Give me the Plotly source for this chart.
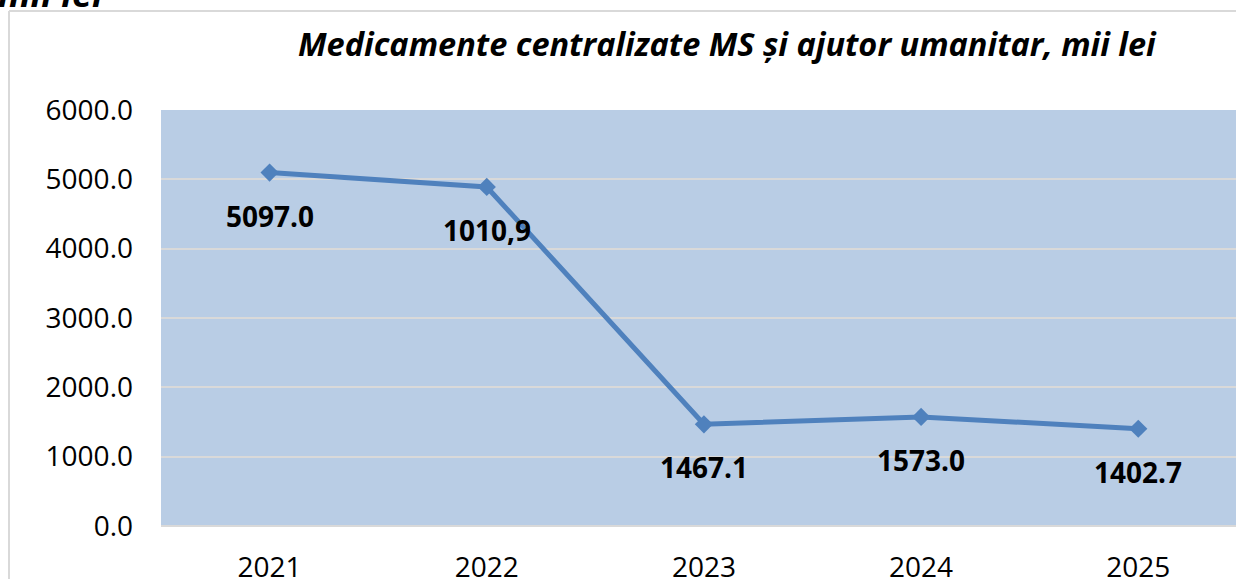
import plotly.graph_objects as go

years = ["2021", "2022", "2023", "2024", "2025"]
values = [5097.0, 4890.0, 1467.1, 1573.0, 1402.7]
labels = ["5097.0", "1010,9", "1467.1", "1573.0", "1402.7"]
y_ticks = [0, 1000, 2000, 3000, 4000, 5000, 6000]

W, H = 1236, 579
L, R, T, B = 161, 0, 110, 53
pw = W - L - R
ph = H - T - B

def px_x(p):
    return (p - L) / pw

def px_y(p):
    return (H - B - p) / ph

idx = list(range(len(years)))

fig = go.Figure()
fig.add_trace(go.Scatter(
    x=idx, y=values, mode="lines+markers",
    line=dict(color="#4F81BD", width=5),
    marker=dict(symbol="diamond", size=14, color="#4F81BD"),
    showlegend=False, hoverinfo="skip",
))

for i, v, lab in zip(idx, values, labels):
    fig.add_annotation(x=i, y=v, xref="x", yref="y", text="<b>" + lab + "</b>",
                       showarrow=False, yshift=-43,
                       font=dict(family="Open Sans", size=28, color="#000000"))

fig.add_annotation(xref="paper", yref="paper", x=px_x(727), y=px_y(44),
                   text="<b><i>Medicamente centralizate MS și ajutor umanitar, mii lei</i></b>",
                   showarrow=False, xanchor="center", yanchor="middle",
                   font=dict(family="Open Sans", size=32.5, color="#000000"))

fig.add_annotation(xref="paper", yref="paper", x=px_x(-4), y=px_y(20),
                   text="<b><i>mii lei</i></b>", showarrow=False,
                   xanchor="left", yanchor="bottom",
                   font=dict(family="Open Sans", size=36, color="#000000"))

# chart border (left and top edges; the rest lies outside the picture)
fig.add_shape(type="line", xref="paper", yref="paper",
              x0=px_x(9), x1=px_x(9), y0=px_y(640), y1=px_y(11),
              line=dict(color="#D9D9D9", width=2), layer="below")
fig.add_shape(type="line", xref="paper", yref="paper",
              x0=px_x(9), x1=px_x(1300), y0=px_y(11), y1=px_y(11),
              line=dict(color="#D9D9D9", width=2), layer="below")

fig.update_layout(
    width=W, height=H,
    margin=dict(l=L, r=R, t=T, b=B, autoexpand=False),
    paper_bgcolor="white",
    plot_bgcolor="#B9CDE5",
    xaxis=dict(range=[-0.5, 4.45], tickvals=idx, ticktext=years,
               showgrid=False, showline=False, automargin=False,
               zeroline=False, ticks="", ticklabelstandoff=22,
               tickfont=dict(family="Open Sans", size=28, color="#000000")),
    yaxis=dict(range=[0, 6000], tickvals=y_ticks, tickformat=".1f",
               showgrid=True, gridcolor="#D9D9D9", gridwidth=2, automargin=False,
               zeroline=True, zerolinecolor="#D9D9D9", zerolinewidth=2,
               showline=False, ticks="", ticklabelstandoff=27,
               tickfont=dict(family="Open Sans", size=28, color="#000000")),
)

fig.write_html(
    "out.html", config={"displayModeBar": False},
    post_script=(
        "document.documentElement.style.margin='0';"
        "document.documentElement.style.padding='0';"
        "document.documentElement.style.overflow='hidden';"
        "document.body.style.margin='0';"
        "document.body.style.padding='0';"
        "document.body.style.overflow='hidden';"
    ),
)
